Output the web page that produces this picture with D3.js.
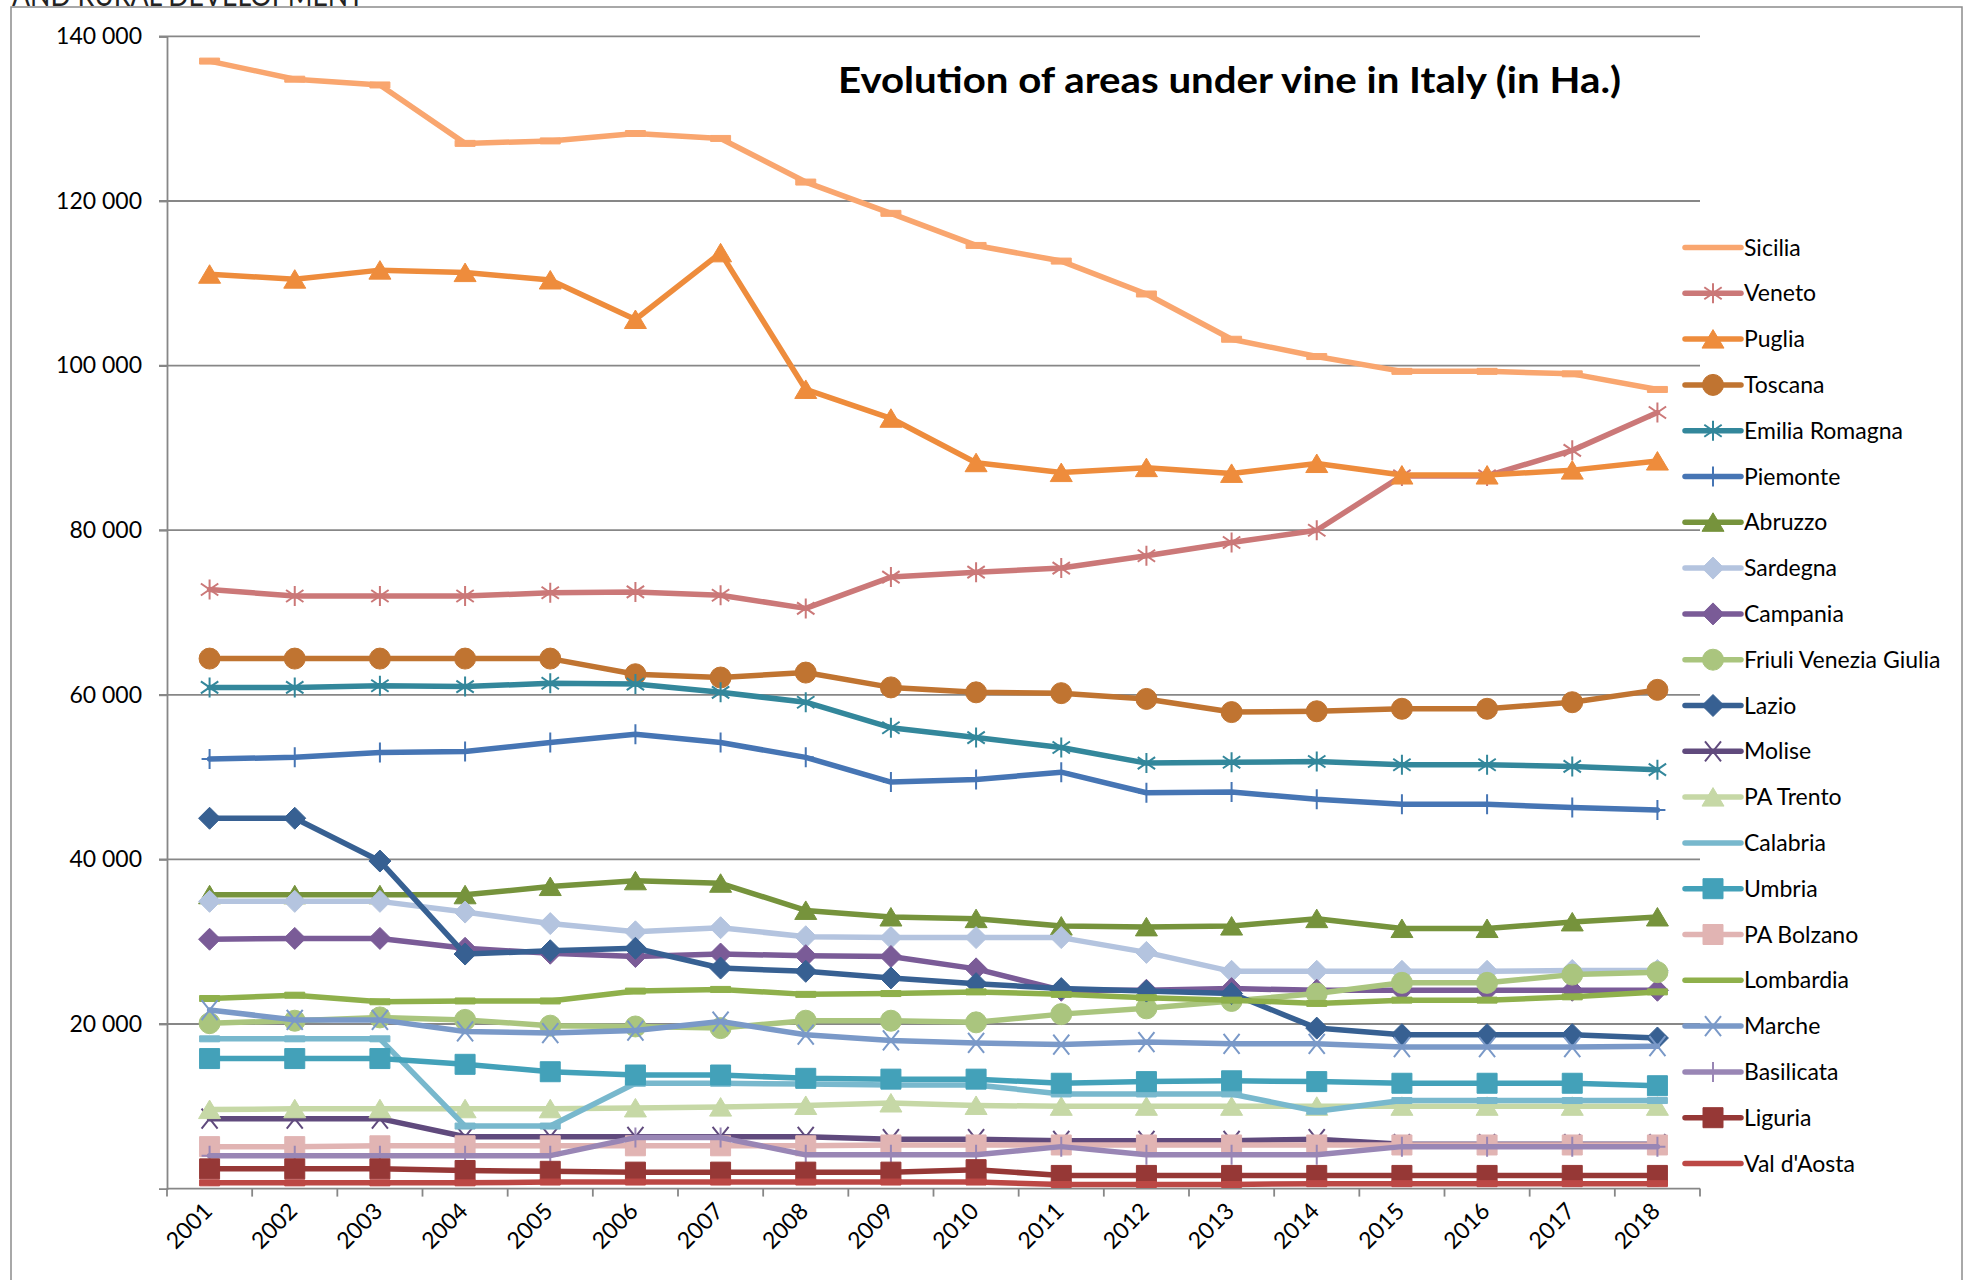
<!DOCTYPE html>
<html>
<head>
<meta charset="utf-8">
<script src="https://cdn.jsdelivr.net/npm/d3@7"></script>
<style>
	html, body { margin: 0; padding: 0; background: #fff; }
	svg { display: block; font-family: Lato, "Open Sans", sans-serif; }
</style>
</head>
<body>
<div id="chart"></div>
<script>

// data, hectares per region
const years = [2001, 2002, 2003, 2004, 2005, 2006, 2007, 2008, 2009, 2010, 2011, 2012, 2013, 2014, 2015, 2016, 2017, 2018];

const sicilia    = [137000, 134800, 134100, 127000, 127300, 128200, 127600, 122300, 118500, 114600, 112700, 108700, 103200, 101100, 99300, 99300, 99000, 97100];
const veneto     = [72800, 72000, 72000, 72000, 72400, 72500, 72100, 70500, 74300, 74900, 75400, 76900, 78500, 80000, 86600, 86600, 89700, 94300];
const puglia     = [111100, 110500, 111600, 111300, 110400, 105600, 113700, 97100, 93600, 88200, 87000, 87600, 86900, 88100, 86700, 86700, 87300, 88400];
const toscana    = [64400, 64400, 64400, 64400, 64400, 62500, 62100, 62700, 60900, 60300, 60200, 59500, 57900, 58000, 58300, 58300, 59100, 60600];
const emilia     = [60900, 60900, 61100, 61000, 61400, 61300, 60300, 59100, 56000, 54800, 53600, 51700, 51800, 51900, 51500, 51500, 51300, 50900];
const piemonte   = [52200, 52400, 53000, 53100, 54200, 55200, 54200, 52400, 49400, 49700, 50600, 48100, 48200, 47300, 46700, 46700, 46300, 46000];
const abruzzo    = [35700, 35700, 35700, 35700, 36700, 37400, 37100, 33800, 33000, 32800, 31900, 31800, 31900, 32800, 31600, 31600, 32400, 33000];
const sardegna   = [34900, 34900, 34900, 33600, 32200, 31200, 31700, 30600, 30500, 30500, 30500, 28700, 26400, 26400, 26400, 26400, 26500, 26500];
const campania   = [30300, 30400, 30400, 29200, 28600, 28200, 28500, 28300, 28200, 26700, 24100, 24100, 24300, 24100, 24100, 24100, 24100, 24100];
const friuli     = [20100, 20400, 20800, 20500, 19800, 19700, 19500, 20400, 20400, 20200, 21200, 21900, 22800, 23700, 25000, 25000, 26000, 26300];
const lazio      = [45000, 45000, 39800, 28500, 28900, 29200, 26800, 26400, 25600, 24900, 24300, 24000, 23700, 19500, 18700, 18700, 18700, 18300];
const molise     = [8500, 8500, 8500, 6300, 6300, 6300, 6300, 6300, 6000, 6000, 5800, 5800, 5800, 6000, 5400, 5400, 5400, 5400];
const trento     = [9600, 9700, 9700, 9700, 9700, 9800, 9900, 10100, 10400, 10100, 10000, 10000, 10000, 10000, 10000, 10000, 10000, 10000];
const calabria   = [18200, 18200, 18200, 7600, 7600, 12800, 12800, 12700, 12600, 12600, 11500, 11500, 11500, 9400, 10700, 10700, 10700, 10700];
const umbria     = [15800, 15800, 15800, 15100, 14200, 13800, 13800, 13400, 13300, 13300, 12800, 13000, 13100, 13000, 12800, 12800, 12800, 12500];
const bolzano    = [5100, 5100, 5200, 5200, 5200, 5200, 5200, 5200, 5300, 5300, 5300, 5300, 5300, 5300, 5300, 5300, 5300, 5300];
const lombardia  = [23100, 23500, 22700, 22800, 22800, 24000, 24200, 23600, 23700, 23900, 23600, 23200, 22900, 22500, 22900, 22900, 23300, 23900];
const marche     = [21700, 20500, 20500, 19100, 18900, 19200, 20300, 18700, 18000, 17700, 17500, 17800, 17600, 17600, 17200, 17200, 17200, 17300];
const basilicata = [4000, 4000, 4000, 4000, 4000, 6200, 6200, 4100, 4100, 4100, 5100, 4100, 4100, 4100, 5100, 5100, 5100, 5100];
const liguria    = [2400, 2400, 2400, 2200, 2100, 2000, 2000, 2000, 2000, 2300, 1600, 1600, 1600, 1600, 1600, 1600, 1600, 1600];
const valdaosta  = [700, 700, 700, 700, 800, 800, 800, 800, 800, 800, 500, 500, 500, 600, 600, 600, 600, 600];

const yTicks = [20000, 40000, 60000, 80000, 100000, 120000, 140000];

const series = [
	{ name: "Sicilia",               values: sicilia,    color: "#F9A66F", marker: "dash" },
	{ name: "Veneto",                values: veneto,     color: "#CB7878", marker: "star" },
	{ name: "Puglia",                values: puglia,     color: "#EE8C3C", marker: "triangle" },
	{ name: "Toscana",               values: toscana,    color: "#C07431", marker: "circle" },
	{ name: "Emilia Romagna",        values: emilia,     color: "#33879B", marker: "star" },
	{ name: "Piemonte",              values: piemonte,   color: "#4675B4", marker: "plus" },
	{ name: "Abruzzo",               values: abruzzo,    color: "#76933C", marker: "triangle" },
	{ name: "Sardegna",              values: sardegna,   color: "#B4C4DF", marker: "diamond" },
	{ name: "Campania",              values: campania,   color: "#7A5B97", marker: "diamond" },
	{ name: "Friuli Venezia Giulia", values: friuli,     color: "#AAC57E", marker: "circle" },
	{ name: "Lazio",                 values: lazio,      color: "#376092", marker: "diamond" },
	{ name: "Molise",                values: molise,     color: "#604A7D", marker: "x" },
	{ name: "PA Trento",             values: trento,     color: "#C6D8A6", marker: "triangle" },
	{ name: "Calabria",              values: calabria,   color: "#78B8CD", marker: "dash" },
	{ name: "Umbria",                values: umbria,     color: "#43A1B9", marker: "square" },
	{ name: "PA Bolzano",            values: bolzano,    color: "#E1B4B3", marker: "square" },
	{ name: "Lombardia",             values: lombardia,  color: "#8FB04B", marker: "dash" },
	{ name: "Marche",                values: marche,     color: "#7A99C8", marker: "x" },
	{ name: "Basilicata",            values: basilicata, color: "#9986B5", marker: "plus" },
	{ name: "Liguria",               values: liguria,    color: "#963836", marker: "square" },
	{ name: "Val d'Aosta",           values: valdaosta,  color: "#BC4845", marker: "dash" }
];

const W = 1970, H = 1280;
const plot = { left: 167, right: 1700, top: 36.4, bottom: 1188.6 };

const svg = d3.select("#chart")
	.append("svg")
	.attr("width", W)
	.attr("height", H);

// cut-off heading of the page above the chart
svg.append("text")
	.attr("x", 12)
	.attr("y", 6)
	.attr("font-size", 30)
	.attr("textLength", 352)
	.attr("lengthAdjust", "spacingAndGlyphs")
	.attr("fill", "#222")
	.text("AND RURAL DEVELOPMENT");

// chart border
svg.append("rect")
	.attr("x", 11)
	.attr("y", 7)
	.attr("width", 1951)
	.attr("height", 1320)
	.attr("fill", "#fff")
	.attr("stroke", "#8c8c8c")
	.attr("stroke-width", 1.5);

const x = d3.scaleBand()
	.domain(years)
	.range([plot.left, plot.right]);

const cx = (yr) => x(yr) + x.bandwidth() / 2;

const y = d3.scaleLinear()
	.domain([0, 140000])
	.range([plot.bottom, plot.top]);

const fmt = (v) => d3.format(",")(v).replace(/,/g, " ");

// gridlines
svg.append("g")
	.attr("class", "grid")
	.selectAll("line")
	.data(yTicks)
	.join("line")
		.attr("x1", plot.left - 8)
		.attr("x2", plot.right)
		.attr("y1", (d) => y(d))
		.attr("y2", (d) => y(d))
		.attr("stroke", "#878787")
		.attr("stroke-width", 1.8);

// y axis
const yAxis = svg.append("g")
	.attr("transform", "translate(" + plot.left + ",0)")
	.call(d3.axisLeft(y).tickValues(yTicks).tickSize(8).tickPadding(17).tickFormat(fmt));

yAxis.select(".domain").attr("stroke", "#878787").attr("stroke-width", 1.8);
yAxis.selectAll(".tick line").attr("stroke", "#878787").attr("stroke-width", 1.8);
yAxis.selectAll(".tick text")
	.attr("font-family", "Lato, sans-serif")
	.attr("font-size", 23)
	.attr("fill", "#000");

// x axis
const xAxis = svg.append("g").attr("class", "x-axis");

xAxis.append("line")
	.attr("x1", plot.left)
	.attr("x2", plot.right)
	.attr("y1", plot.bottom)
	.attr("y2", plot.bottom)
	.attr("stroke", "#878787")
	.attr("stroke-width", 1.8);

xAxis.selectAll("line.tick")
	.data(years.concat(["end"]))
	.join("line")
		.attr("class", "tick")
		.attr("x1", (d) => d === "end" ? plot.right : x(d))
		.attr("x2", (d) => d === "end" ? plot.right : x(d))
		.attr("y1", plot.bottom)
		.attr("y2", plot.bottom + 8)
		.attr("stroke", "#878787")
		.attr("stroke-width", 1.8);

xAxis.selectAll("text")
	.data(years)
	.join("text")
		.attr("transform", (d) => "translate(" + (cx(d) + 4) + "," + (plot.bottom + 24) + ") rotate(-45)")
		.attr("text-anchor", "end")
		.attr("font-size", 23)
		.attr("fill", "#000")
		.text((d) => d);

// markers
function markerPath(type){
	switch(type){
		case "triangle": return "M0,-9.5L11,9L-11,9Z";
		case "diamond":  return "M0,-11L11,0L0,11L-11,0Z";
		case "square":   return "M-10,-10H10V10H-10Z";
		case "circle":   return "M-10.5,0A10.5,10.5 0 1,0 10.5,0A10.5,10.5 0 1,0 -10.5,0Z";
		case "dash":     return "M-10,-3H10V3H-10Z";
		case "star":     return "M0,-10V10M-8.7,-6L8.7,6M-8.7,6L8.7,-6";
		case "x":        return "M-8,-10L8,10M-8,10L8,-10";
		case "plus":     return "M0,-10V10M-8,0H8";
	}
	return null;
}

function isOpen(type){
	return type === "star" || type === "x" || type === "plus";
}

function drawMarker(sel, type, color){
	sel.append("path")
		.attr("d", markerPath(type))
		.attr("fill", isOpen(type) ? "none" : color)
		.attr("stroke", color)
		.attr("stroke-width", isOpen(type) ? 2 : 1);
}

const line = d3.line()
	.x((d) => cx(d.year))
	.y((d) => y(d.value));

const gSeries = svg.append("g").attr("class", "series");

series.forEach((s) => {

	const pts = years.map((yr, i) => ({ year: yr, value: s.values[i] }));

	const g = gSeries.append("g").attr("class", "serie");

	g.append("path")
		.datum(pts)
		.attr("d", line)
		.attr("fill", "none")
		.attr("stroke", s.color)
		.attr("stroke-width", 5.5)
		.attr("stroke-linejoin", "round")
		.attr("stroke-linecap", "round");

	if( s.marker ){
		g.selectAll("g.m")
			.data(pts)
			.join("g")
				.attr("class", "m")
				.attr("transform", (d) => "translate(" + cx(d.year) + "," + y(d.value) + ")")
				.each(function(){ drawMarker(d3.select(this), s.marker, s.color); });
	}
});

// legend
const legend = svg.append("g")
	.attr("class", "legend")
	.attr("transform", "translate(1685,247.5)");

const item = legend.selectAll("g")
	.data(series)
	.join("g")
		.attr("transform", (d, i) => "translate(0," + (i * 45.8) + ")");

item.append("line")
	.attr("x1", 0)
	.attr("x2", 56)
	.attr("stroke", (d) => d.color)
	.attr("stroke-width", 5.5)
	.attr("stroke-linecap", "round");

item.filter((d) => d.marker && d.marker !== "dash")
	.append("g")
		.attr("transform", "translate(28,0)")
		.each(function(d){ drawMarker(d3.select(this), d.marker, d.color); });

item.append("text")
	.attr("x", 59)
	.attr("dy", "0.35em")
	.attr("font-size", 23)
	.attr("fill", "#000")
	.text((d) => d.name);

// title
svg.append("text")
	.attr("x", 838)
	.attr("y", 93)
	.attr("font-size", 36)
	.attr("font-weight", "bold")
	.attr("textLength", 783)
	.attr("lengthAdjust", "spacingAndGlyphs")
	.attr("fill", "#000")
	.text("Evolution of areas under vine in Italy (in Ha.)");

</script>
</body>
</html>
